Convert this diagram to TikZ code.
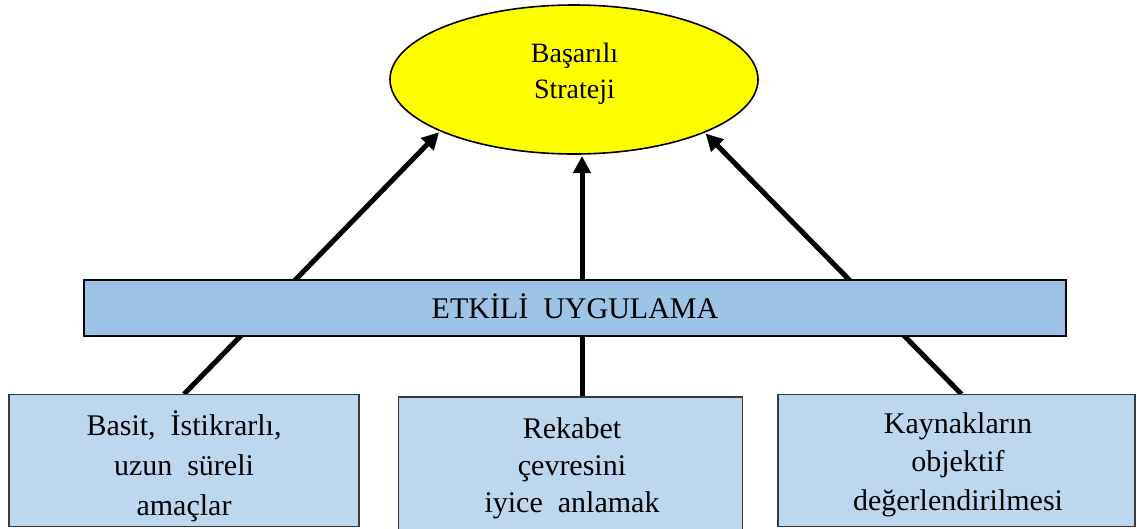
\documentclass[tikz,border=0pt]{standalone}
\usepackage{fontspec}
\setmainfont{Liberation Serif}
\usetikzlibrary{arrows.meta,shapes.geometric,backgrounds}
\definecolor{goalyellow}{HTML}{FFFF00}
\definecolor{barblue}{HTML}{9DC3E6}
\definecolor{boxblue}{HTML}{BDD7EE}
\definecolor{boxedge}{HTML}{3A3A3A}

\begin{document}
\begin{tikzpicture}[x=1pt,y=-1pt,
  goalshape/.style={ellipse, draw=black, line width=1.6pt, fill=goalyellow,
    minimum width=368pt, minimum height=149pt, inner sep=0pt, outer sep=0pt},
  barshape/.style={rectangle, draw=black, line width=1.8pt, fill=barblue,
    minimum width=982pt, minimum height=56pt, inner sep=0pt, outer sep=0pt,
    text height=20pt, text depth=0pt, font=\fontsize{30}{36}\selectfont},
  boxshape/.style={rectangle, draw=boxedge, line width=1.4pt, fill=boxblue,
    inner sep=0pt, outer sep=0pt},
  txt/.style={align=center, inner sep=0pt},
  arr/.style={line width=5pt, -{Triangle[length=17pt,width=17pt]}, shorten >=2pt}
]
\useasboundingbox (0,0) rectangle (1137,528);

% goal at the top
\node[goalshape] (goal) at (574,79.5) {};
\node[txt, font=\fontsize{28}{36}\selectfont] (goaltext) at (574.5,72.8)
  {\strut Başarılı\\\strut Strateji};

% implementation bar
\node[barshape] (impl) at (575,308) {ETKİLİ~~UYGULAMA};

% three foundations
\node[boxshape, minimum width=350pt, minimum height=132pt] (lb) at (184,460.2) {};
\node[txt, font=\fontsize{30}{40}\selectfont] (lbtext) at (184,467)
  {\strut Basit,~~İstikrarlı,\\\strut uzun~~süreli\\\strut amaçlar};

\node[boxshape, minimum width=344pt, minimum height=143pt] (mb) at (570.5,468.5) {};
\node[txt, font=\fontsize{30}{37}\selectfont] (mbtext) at (572,467.6)
  {\strut Rekabet\\\strut çevresini\\\strut iyice~~anlamak};

\node[boxshape, minimum width=357pt, minimum height=132pt] (rb) at (956.5,460.2) {};
\node[txt, font=\fontsize{30}{38.5}\selectfont] (rbtext) at (958,464)
  {\strut Kaynakların\\\strut objektif\\\strut değerlendirilmesi};

% arrows run behind the bar and boxes
\begin{pgfonlayer}{background}
  \draw[arr] (lb.north) -- (goal.201);
  \path ([xshift=8pt]goal.south) coordinate (midtip);
  \draw[arr] (midtip |- mb.north) -- (midtip);
  \draw[arr] ([xshift=5pt]rb.north) -- (goal.338);
\end{pgfonlayer}
\end{tikzpicture}
\end{document}
